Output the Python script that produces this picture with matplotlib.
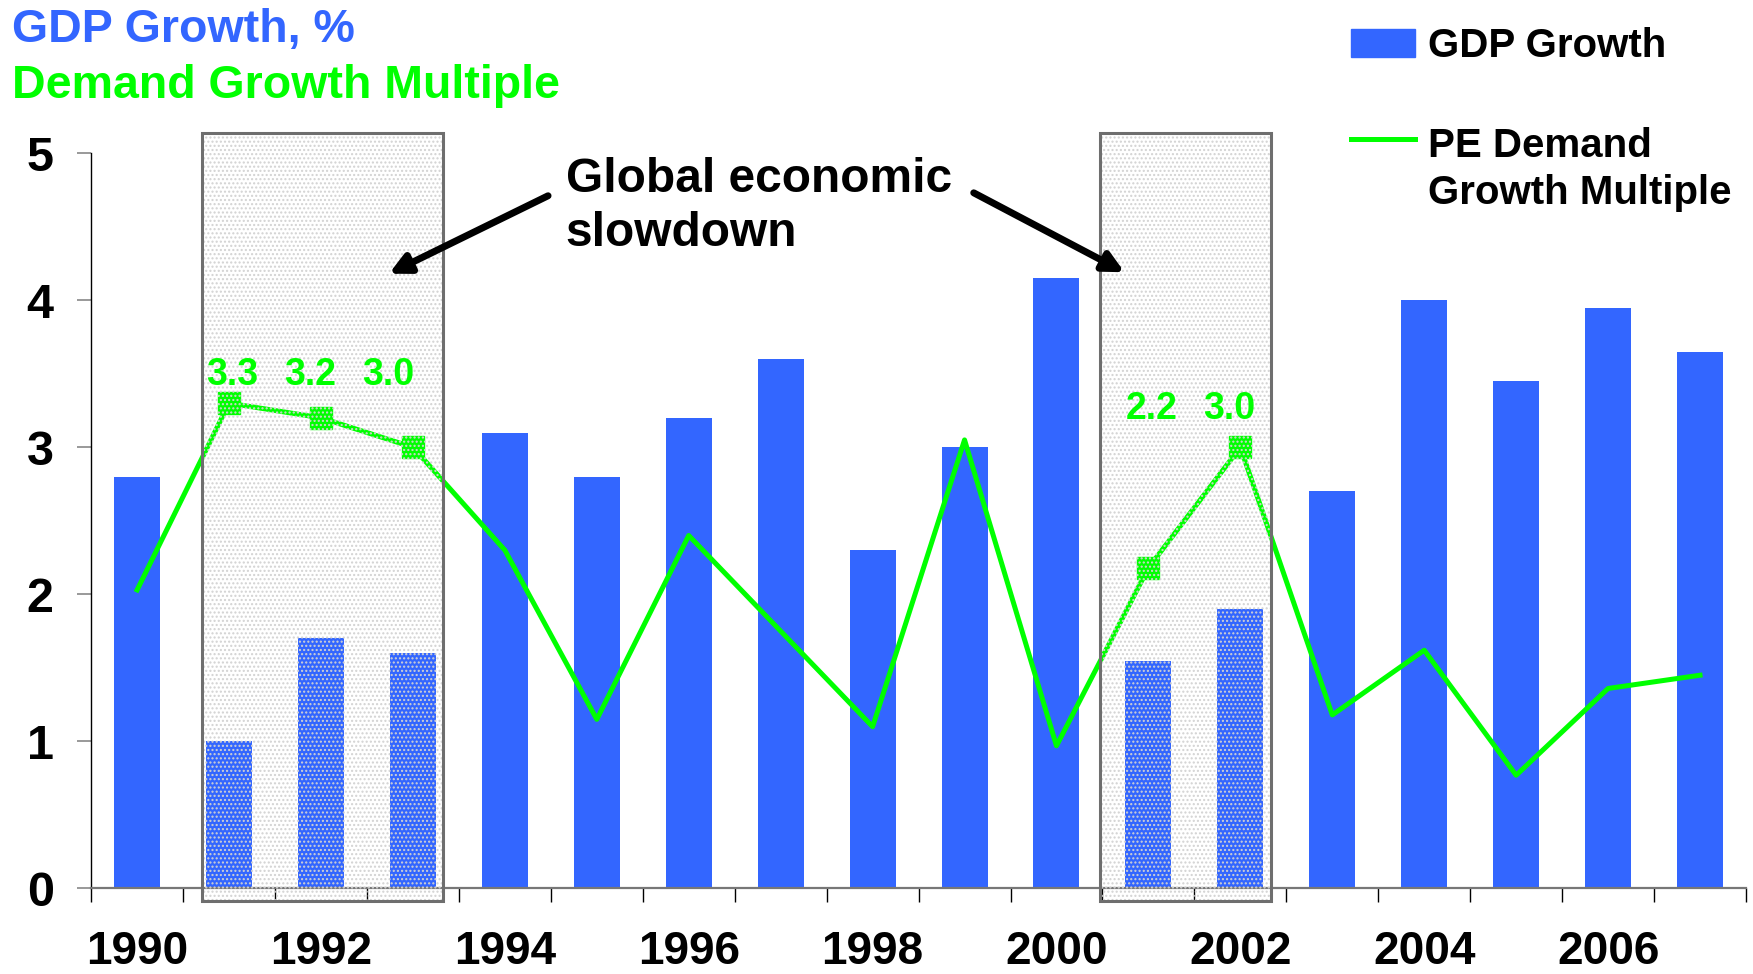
import numpy as np
import matplotlib.pyplot as plt
from matplotlib.patches import Rectangle, Patch
from matplotlib.lines import Line2D
from matplotlib.legend_handler import HandlerLine2D

plt.rcParams['font.family'] = ['Liberation Sans', 'DejaVu Sans']
plt.rcParams['font.weight'] = 'bold'
plt.rcParams['hatch.linewidth'] = 1.0

# data
years = np.arange(1990, 2008)
gdp_growth = [2.8, 1.0, 1.7, 1.6, 3.1, 2.8, 3.2, 3.6, 2.3, 3.0,
              4.15, 1.55, 1.9, 2.7, 4.0, 3.45, 3.95, 3.65]
pe_multiple = [2.03, 3.3, 3.2, 3.0, 2.3, 1.15, 2.4, 1.75, 1.1, 3.05,
               0.97, 2.18, 3.0, 1.18, 1.62, 0.77, 1.36, 1.45]
slowdowns = [(1991, 1993), (2001, 2002)]
tick_years = years[::2]

blue = '#3366FF'
green = '#00FF00'


class RaisedLine(HandlerLine2D):
    # put the legend line beside the first text row
    def create_artists(self, legend, orig_handle, xdescent, ydescent,
                       width, height, fontsize, trans):
        arts = super().create_artists(legend, orig_handle, xdescent, ydescent,
                                      width, height, fontsize, trans)
        for a in arts:
            a.set_ydata(np.asarray(a.get_ydata()) + 0.78 * fontsize)
        return arts


fig = plt.figure(figsize=(17.53, 9.74), dpi=100)
ax = fig.add_axes([0.052, 0.0878, 0.944, 0.755])

x = np.arange(len(years))
yr = list(years)
ax.bar(x, gdp_growth, width=0.5, color=blue, zorder=2)

mark_idx = [i for a, b in slowdowns for i in range(yr.index(a), yr.index(b) + 1)]
ax.plot(x, pe_multiple, color=green, lw=3.6, marker='s', ms=16,
        markevery=mark_idx, zorder=3)

# shaded slowdown boxes + value labels
pads = [(0.29, 0.33), (0.53, 0.33)]
lab_off = [13, 20]
for (a, b), (pl, pr), off in zip(slowdowns, pads, lab_off):
    i0, i1 = yr.index(a), yr.index(b)
    left, right = i0 - pl, i1 + pr
    ax.add_patch(Rectangle((left, -0.085), right - left, 5.22, facecolor='none',
                           edgecolor='#d2d2d2', lw=0, hatch='....', zorder=4,
                           clip_on=False))
    ax.add_patch(Rectangle((left, -0.085), right - left, 5.22, fill=False,
                           edgecolor='#6e6e6e', lw=2.2, zorder=5, clip_on=False))
    top = max(pe_multiple[i0:i1 + 1])
    for k, i in enumerate(range(i0, i1 + 1)):
        ax.annotate(f'{pe_multiple[i]:.1f}', (i, top), xytext=(2 - 10 * k, off),
                    textcoords='offset points', ha='center', va='baseline',
                    color=green, fontsize=27, zorder=6)

ax.text(4.66, 4.37, 'Global economic\nslowdown', fontsize=34.5, ha='left',
        va='baseline', linespacing=1.25, zorder=7)
for tail, tip in [((4.47, 4.71), (2.74, 4.18)), ((9.10, 4.73), (10.74, 4.19))]:
    ax.annotate('', xy=tip, xytext=tail, zorder=7,
                arrowprops=dict(arrowstyle='-|>', lw=5, color='black',
                                mutation_scale=30, shrinkA=0, shrinkB=0))

ax.set_xlim(-0.5, len(years) - 0.5)
ax.set_ylim(0, 5)
ax.spines['top'].set_visible(False)
ax.spines['right'].set_visible(False)
ax.spines['left'].set_linewidth(1)
ax.spines['bottom'].set_linewidth(1.6)
ax.spines['bottom'].set_color('#777777')

ax.set_yticks(range(6))
ax.tick_params(axis='y', length=10, width=1.2, color='#888888', pad=17,
               labelsize=35)
ax.set_xticks([yr.index(t) for t in tick_years])
ax.set_xticklabels([str(t) for t in tick_years])
ax.tick_params(axis='x', which='major', length=0, pad=30, labelsize=33)
ax.set_xticks(np.arange(-0.5, len(years), 1), minor=True)
ax.tick_params(axis='x', which='minor', length=10, width=1, color='black')

fig.text(12 / 1753, 1 - 42 / 974, 'GDP Growth, %', color=blue, fontsize=33.5,
         va='baseline')
fig.text(12 / 1753, 1 - 98 / 974, 'Demand Growth Multiple', color=green,
         fontsize=33.5, va='baseline')

bar_h = Patch(color=blue)
line_h = Line2D([], [], color=green, lw=3.6)
leg = fig.legend([bar_h, line_h], ['GDP Growth', 'PE Demand\nGrowth Multiple'],
                 loc='upper left', bbox_to_anchor=(1351 / 1753, 1 - 27 / 974),
                 frameon=False, fontsize=29, handlelength=1.6, handleheight=0.7,
                 handletextpad=0.3, labelspacing=1.55, borderpad=0,
                 borderaxespad=0, handler_map={line_h: RaisedLine()})
leg.get_texts()[1].set_linespacing(1.3)

fig.savefig('out.png', dpi=100)
